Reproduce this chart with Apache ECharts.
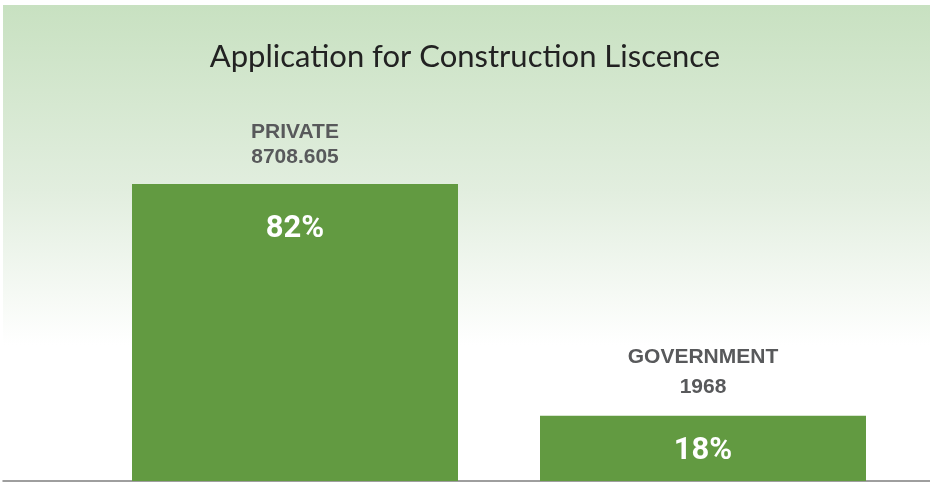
<!DOCTYPE html>
<html>
<head>
<meta charset="utf-8">
<script src="https://cdn.jsdelivr.net/npm/echarts@6/dist/echarts.min.js"></script>
<style>
  html, body { margin: 0; padding: 0; background: #fff; }
  #chart { width: 930px; height: 482px; }
</style>
</head>
<body>
<div id="chart"></div>
<script>
const categories = ['PRIVATE', 'GOVERNMENT']
const counts = ['8708.605', '1968']
const shares = [82, 18]

const chart = echarts.init(document.getElementById('chart'))

// the two outer labels are spaced a little differently in the source
const outerLineHeight = [25, 30]
const innerDistance = [29, 19]

chart.setOption({
  animation: false,
  graphic: [{
    type: 'rect',
    left: 3, top: 5,
    shape: { width: 927, height: 340 },
    silent: true,
    z: -10,
    style: {
      fill: new echarts.graphic.LinearGradient(0, 0, 0, 1, [
        { offset: 0, color: '#c8e1c1' },
        { offset: 0.55, color: '#e2eedf' },
        { offset: 1, color: '#ffffff' }
      ])
    }
  }],
  title: {
    text: 'Application for Construction Liscence',
    left: 'center',
    top: 36,
    textStyle: {
      fontFamily: 'Lato',
      fontWeight: 'normal',
      fontSize: 31,
      color: '#222'
    }
  },
  grid: [
    { left: 91, right: 23, top: 184, bottom: 1 },
    { left: 3, right: 0, top: 470, bottom: 1 }
  ],
  xAxis: [
    {
      type: 'category',
      data: categories,
      axisLine: { show: false },
      axisTick: { show: false },
      axisLabel: { show: false }
    },
    {
      type: 'category',
      gridIndex: 1,
      data: [],
      axisLine: { lineStyle: { color: '#7f7f7f', width: 1.5 } },
      axisTick: { show: false },
      axisLabel: { show: false }
    }
  ],
  yAxis: [
    { type: 'value', min: 0, max: 82, show: false },
    { type: 'value', gridIndex: 1, show: false }
  ],
  series: [
    {
      type: 'bar',
      barWidth: 326,
      itemStyle: { color: '#629a41' },
      data: shares.map((v, i) => ({
        value: v,
        label: {
          show: true,
          position: 'insideTop',
          distance: innerDistance[i],
          formatter: '{c}%',
          color: '#fff',
          fontFamily: 'Roboto, sans-serif',
          fontWeight: 'bold',
          fontSize: 31,
          lineHeight: 32
        }
      }))
    },
    {
      type: 'bar',
      barWidth: 326,
      barGap: '-100%',
      silent: true,
      itemStyle: { color: 'transparent' },
      data: shares.map((v, i) => ({
        value: v,
        label: {
          show: true,
          position: 'top',
          distance: 14,
          formatter: categories[i] + '\n' + counts[i],
          color: '#58595b',
          fontFamily: '"Liberation Sans", Arial, sans-serif',
          fontWeight: 'bold',
          fontSize: 21,
          lineHeight: outerLineHeight[i]
        }
      }))
    }
  ]
})
</script>
</body>
</html>
